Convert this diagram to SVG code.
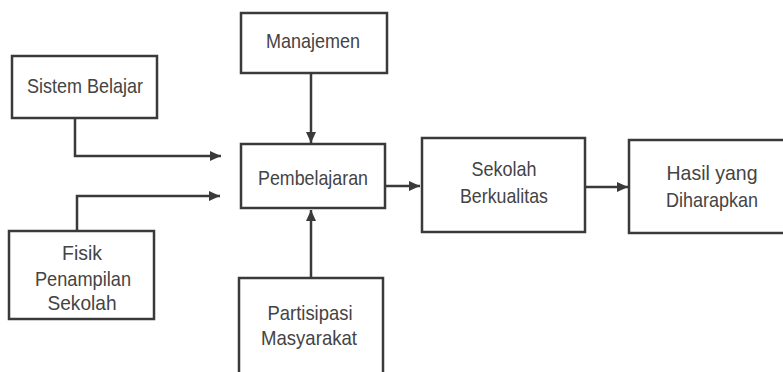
<svg xmlns="http://www.w3.org/2000/svg" width="783" height="372" viewBox="0 0 783 372">
<style>
.box{fill:#fff;stroke:#3a3a3a;stroke-width:2.5}
.lbl{font-family:"Liberation Sans",Arial,sans-serif;font-size:21px;fill:#444;text-anchor:middle}
.con{fill:none;stroke:#3a3a3a;stroke-width:2.5}
</style>
<defs>
<marker id="ah" markerUnits="userSpaceOnUse" markerWidth="12" markerHeight="11" refX="11" refY="5" orient="auto">
<path d="M0,0 L11,5 L0,10 z" fill="#3a3a3a"/>
</marker>
</defs>
<rect width="783" height="372" fill="#fff"/>
<g id="connectors">
<path class="con" d="M311,73 V143" marker-end="url(#ah)"/>
<path class="con" d="M75,118 V156 H221" marker-end="url(#ah)"/>
<path class="con" d="M77,231 V196 H220" marker-end="url(#ah)"/>
<path class="con" d="M311,278 V210" marker-end="url(#ah)"/>
<path class="con" d="M385,186 H420" marker-end="url(#ah)"/>
<path class="con" d="M585,187 H628" marker-end="url(#ah)"/>
</g>
<g id="manajemen">
<rect class="box" x="241" y="13" width="146" height="60"/>
<text class="lbl" x="313" y="48" textLength="94" lengthAdjust="spacingAndGlyphs">Manajemen</text>
</g>
<g id="sistem-belajar">
<rect class="box" x="12" y="56" width="145" height="62"/>
<text class="lbl" x="85" y="93" textLength="116" lengthAdjust="spacingAndGlyphs">Sistem Belajar</text>
</g>
<g id="pembelajaran">
<rect class="box" x="241" y="144" width="144" height="64"/>
<text class="lbl" x="313" y="185" textLength="110" lengthAdjust="spacingAndGlyphs">Pembelajaran</text>
</g>
<g id="fisik">
<rect class="box" x="9" y="231" width="145" height="88"/>
<text class="lbl" x="82" y="260" textLength="40" lengthAdjust="spacingAndGlyphs">Fisik</text>
<text class="lbl" x="83" y="286" textLength="96" lengthAdjust="spacingAndGlyphs">Penampilan</text>
<text class="lbl" x="82" y="310" textLength="69" lengthAdjust="spacingAndGlyphs">Sekolah</text>
</g>
<g id="partisipasi">
<rect class="box" x="239" y="278" width="144" height="110"/>
<text class="lbl" x="310" y="320" textLength="85" lengthAdjust="spacingAndGlyphs">Partisipasi</text>
<text class="lbl" x="309" y="345" textLength="96" lengthAdjust="spacingAndGlyphs">Masyarakat</text>
</g>
<g id="sekolah-berkualitas">
<rect class="box" x="422" y="138" width="163" height="94"/>
<text class="lbl" x="504" y="176" textLength="65" lengthAdjust="spacingAndGlyphs">Sekolah</text>
<text class="lbl" x="504" y="203" textLength="88" lengthAdjust="spacingAndGlyphs">Berkualitas</text>
</g>
<g id="hasil">
<rect class="box" x="629" y="140" width="170" height="93"/>
<text class="lbl" x="712" y="180" textLength="91" lengthAdjust="spacingAndGlyphs">Hasil yang</text>
<text class="lbl" x="712" y="207" textLength="92" lengthAdjust="spacingAndGlyphs">Diharapkan</text>
</g>
</svg>
